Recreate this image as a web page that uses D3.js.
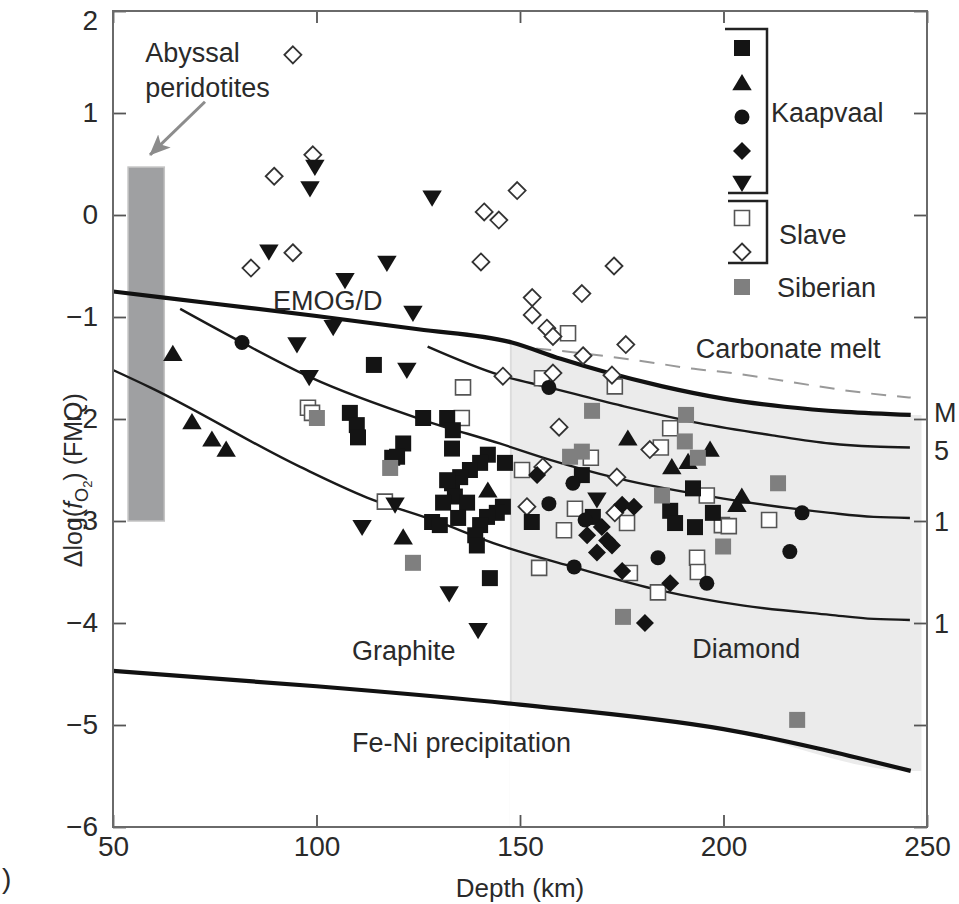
<!DOCTYPE html>
<html>
<head>
<meta charset="utf-8">
<script src="https://cdn.jsdelivr.net/npm/d3@7"></script>
<style>
  body { margin: 0; background: #fff; }
  text { font-family: "Liberation Sans", Arial, sans-serif; fill: #2a2a2a; }
</style>
</head>
<body>
<div id="chart"></div>
<script>
// axis ticks
var xTicks = [50, 100, 150, 200, 250];
var yTicks = [-6, -5, -4, -3, -2, -1, 0, 1, 2];

// reference curves [depth km, dlog fO2]
var emogLine = [[50,-0.75],[75,-0.87],[100,-0.99],[125,-1.12],[148,-1.25],[160,-1.41],[171,-1.54],[185,-1.68],[200,-1.80],[215,-1.88],[230,-1.93],[246,-1.96]];
var carbonateMelt = [[154,-1.31],[164,-1.35],[174,-1.40],[183,-1.45],[191,-1.50],[200,-1.54],[236,-1.75],[246,-1.79]];
var contourA = [[66.5,-0.92],[81.7,-1.25],[98.4,-1.59],[126.2,-2.01],[145,-2.24],[157.4,-2.40],[173.8,-2.58],[200,-2.78],[226.2,-2.92],[236.9,-2.96],[245.8,-2.97]];
var contourB = [[127.3,-1.29],[145.1,-1.57],[157.1,-1.69],[175,-1.87],[194,-2.04],[212,-2.16],[226.2,-2.24],[236.9,-2.27],[245.8,-2.28]];
var contourC = [[50,-1.52],[59.1,-1.69],[96,-2.47],[112.4,-2.77],[128.6,-2.99],[145.1,-3.24],[163,-3.45],[184.4,-3.68],[205,-3.83],[226.2,-3.92],[236.9,-3.96],[245.8,-3.97]];
var feNiLine = [[50,-4.47],[100,-4.62],[150,-4.80],[200,-5.04],[246,-5.45]];

// shaded fields
var abyssal = {x0: 53.7, x1: 62.6, y0: -3.0, y1: 0.47};
var diamondX = [147.5, 248.7];

// Kaapvaal
var kaapSquares = [[114.1,-1.47],[108.2,-1.94],[109.9,-2.06],[110.2,-2.18],[121.3,-2.24],[119.8,-2.37],[118.6,-2.38],[126.2,-1.99],[132.1,-1.99],[133.5,-2.11],[133.3,-2.29],[142.1,-2.35],[140.2,-2.43],[137.7,-2.50],[135.3,-2.57],[133.3,-2.63],[132.1,-2.60],[146.3,-2.43],[134.0,-2.76],[131.1,-2.82],[137.0,-2.82],[134.8,-2.97],[128.4,-3.01],[130.3,-3.04],[145.8,-2.86],[144.3,-2.92],[141.9,-2.96],[140.2,-3.04],[139.0,-3.14],[139.4,-3.24],[142.6,-3.56],[152.9,-3.01],[165.2,-2.55],[192.5,-2.68],[186.9,-2.90],[188.1,-3.02],[193.0,-3.06],[197.4,-2.92],[167.9,-2.96]];
var kaapTriangles = [[64.7,-1.36],[69.4,-2.03],[74.3,-2.20],[77.8,-2.30],[142.1,-2.70],[121.3,-3.16],[176.5,-2.19],[187.3,-2.47],[191.3,-2.42],[196.7,-2.30],[204.5,-2.76],[203.3,-2.84]];
var kaapCircles = [[81.7,-1.25],[157.1,-1.69],[163.0,-2.63],[157.1,-2.83],[166.0,-2.99],[183.9,-3.36],[163.3,-3.45],[195.9,-3.61],[219.3,-2.92],[216.3,-3.30]];
var kaapDiamonds = [[154.2,-2.55],[175.1,-2.84],[178.0,-2.86],[166.5,-3.14],[168.9,-3.31],[171.4,-3.19],[175.1,-3.49],[186.9,-3.61],[180.7,-4.00],[170.1,-3.06],[172.6,-3.24]];
var kaapDown = [[99.6,0.47],[98.4,0.26],[88.3,-0.36],[128.4,0.17],[117.3,-0.47],[107.0,-0.64],[123.7,-0.96],[104.1,-1.10],[95.2,-1.27],[122.2,-1.52],[98.2,-1.59],[111.2,-3.06],[119.3,-2.84],[132.6,-3.71],[139.7,-4.07],[168.9,-2.79]];

// Slave
var slaveSquares = [[97.9,-1.89],[98.9,-1.94],[136.0,-1.69],[135.7,-1.99],[150.5,-2.50],[116.8,-2.81],[154.7,-3.46],[173.3,-1.68],[186.9,-2.09],[184.6,-2.28],[167.4,-2.38],[163.5,-2.88],[160.8,-3.09],[176.3,-3.02],[195.9,-2.75],[199.6,-3.04],[201.3,-3.05],[211.2,-2.99],[193.5,-3.36],[193.7,-3.50],[177.0,-3.51],[183.9,-3.70],[161.8,-1.16],[155.4,-1.60]];
var slaveDiamonds = [[94.2,1.57],[99.1,0.59],[89.6,0.38],[94.2,-0.37],[83.9,-0.52],[149.3,0.24],[141.2,0.03],[144.8,-0.05],[140.4,-0.46],[173.1,-0.50],[153.0,-0.81],[165.2,-0.77],[153.0,-0.98],[156.6,-1.11],[158.1,-1.19],[176.0,-1.27],[165.5,-1.38],[145.8,-1.58],[158.1,-1.55],[172.6,-1.57],[159.6,-2.08],[181.9,-2.30],[155.6,-2.47],[151.7,-2.86],[173.8,-2.57],[173.3,-2.92]];

// Siberian
var siberian = [[100.1,-1.99],[118.1,-2.48],[123.7,-3.41],[167.7,-1.92],[190.8,-1.96],[190.5,-2.22],[162.3,-2.37],[165.2,-2.32],[193.7,-2.38],[184.9,-2.75],[213.4,-2.63],[199.9,-3.25],[175.3,-3.94],[218.1,-4.95]];

var width = 959, height = 904;
var x = d3.scaleLinear().domain([50, 250]).range([113, 927]);
var y = d3.scaleLinear().domain([-6, 2]).range([827, 11]);

var svg = d3.select("#chart").append("svg")
    .attr("width", width)
    .attr("height", height);

var defs = svg.append("defs");
defs.append("clipPath").attr("id", "plot")
  .append("rect")
    .attr("x", x(50)).attr("y", y(2))
    .attr("width", x(250) - x(50)).attr("height", y(-6) - y(2));
defs.append("clipPath").attr("id", "diamondZone")
  .append("rect")
    .attr("x", x(diamondX[0])).attr("y", y(2))
    .attr("width", x(diamondX[1]) - x(diamondX[0])).attr("height", y(-6) - y(2));
defs.append("marker")
    .attr("id", "arrow")
    .attr("markerUnits", "userSpaceOnUse")
    .attr("markerWidth", 26).attr("markerHeight", 20)
    .attr("refX", 20).attr("refY", 9)
    .attr("orient", "auto")
  .append("path")
    .attr("d", "M0,0L21,9L0,18L5,9Z")
    .attr("fill", "#8c8c8c");

var plot = svg.append("g").attr("clip-path", "url(#plot)");

// Diamond field shading: below EMOG/D, above Fe-Ni
var shade = plot.append("g").attr("clip-path", "url(#diamondZone)");
var emogExt = emogLine.concat([[diamondX[1], emogLine[emogLine.length - 1][1]]]);
var feNiExt = feNiLine.concat([[diamondX[1], feNiLine[feNiLine.length - 1][1]]]);
shade.append("path")
    .datum(emogExt)
    .attr("fill", "#ebebeb")
    .attr("d", d3.area()
      .x(function(d) { return x(d[0]); })
      .y0(y(-6))
      .y1(function(d) { return y(d[1]); })
      .curve(d3.curveMonotoneX));
shade.append("path")
    .datum(feNiExt)
    .attr("fill", "#fff")
    .attr("d", d3.area()
      .x(function(d) { return x(d[0]); })
      .y0(y(-6))
      .y1(function(d) { return y(d[1]); })
      .curve(d3.curveMonotoneX));
// faint left edge of the diamond field
shade.append("line")
    .attr("x1", x(diamondX[0]) + 1).attr("x2", x(diamondX[0]) + 1)
    .attr("y1", y(-1.25)).attr("y2", y(-4.78))
    .attr("stroke", "#dcdcdc").attr("stroke-width", 2);

// Abyssal peridotites bar
plot.append("rect")
    .attr("x", x(abyssal.x0))
    .attr("y", y(abyssal.y1))
    .attr("width", x(abyssal.x1) - x(abyssal.x0))
    .attr("height", y(abyssal.y0) - y(abyssal.y1))
    .attr("fill", "#9fa0a2")
    .attr("stroke", "#c4c4c4")
    .attr("stroke-width", 1.5);

var line = d3.line()
    .x(function(d) { return x(d[0]); })
    .y(function(d) { return y(d[1]); })
    .curve(d3.curveMonotoneX);

plot.append("path").datum(carbonateMelt)
    .attr("fill", "none").attr("stroke", "#999").attr("stroke-width", 2)
    .attr("stroke-dasharray", "15,11").attr("d", line);
[contourA, contourB, contourC].forEach(function(c) {
  plot.append("path").datum(c)
      .attr("fill", "none").attr("stroke", "#1a1a1a").attr("stroke-width", 2.4)
      .attr("d", line);
});
[emogLine, feNiLine].forEach(function(c) {
  plot.append("path").datum(c)
      .attr("fill", "none").attr("stroke", "#111").attr("stroke-width", 4.2)
      .attr("d", line);
});

// marker shapes
function squarePath(s) { var h = s / 2; return "M" + (-h) + "," + (-h) + "h" + s + "v" + s + "h" + (-s) + "Z"; }
function triUpPath(h) { return "M0," + (-h) + "L" + (h * 1.08) + "," + (h * 0.8) + "L" + (-h * 1.08) + "," + (h * 0.8) + "Z"; }
function triDownPath(h) { return "M0," + h + "L" + (h * 1.08) + "," + (-h * 0.8) + "L" + (-h * 1.08) + "," + (-h * 0.8) + "Z"; }
function diamondPath(d) { return "M0," + (-d) + "L" + d + ",0L0," + d + "L" + (-d) + ",0Z"; }
function circlePath(r) { return "M" + r + ",0A" + r + "," + r + " 0 1,1 " + (-r) + ",0A" + r + "," + r + " 0 1,1 " + r + ",0Z"; }

var styles = {
  slaveSq:  {d: squarePath(15), fill: "#fff", stroke: "#555", sw: 1.6},
  slaveDi:  {d: diamondPath(8.5), fill: "#fff", stroke: "#333", sw: 1.8},
  square:   {d: squarePath(16), fill: "#141414", stroke: "none", sw: 0},
  tri:      {d: triUpPath(9), fill: "#141414", stroke: "none", sw: 0},
  circle:   {d: circlePath(7.5), fill: "#141414", stroke: "none", sw: 0},
  diamond:  {d: diamondPath(9), fill: "#141414", stroke: "none", sw: 0},
  down:     {d: triDownPath(9), fill: "#141414", stroke: "none", sw: 0},
  siberian: {d: squarePath(16), fill: "#7f7f7f", stroke: "none", sw: 0}
};

function drawSeries(data, st) {
  plot.append("g").selectAll("path")
    .data(data)
    .enter().append("path")
      .attr("transform", function(d) { return "translate(" + x(d[0]) + "," + y(d[1]) + ")"; })
      .attr("d", st.d)
      .attr("fill", st.fill)
      .attr("stroke", st.stroke)
      .attr("stroke-width", st.sw);
}
drawSeries(slaveSquares, styles.slaveSq);
drawSeries(slaveDiamonds, styles.slaveDi);
drawSeries(kaapSquares, styles.square);
drawSeries(kaapTriangles, styles.tri);
drawSeries(kaapCircles, styles.circle);
drawSeries(kaapDiamonds, styles.diamond);
drawSeries(kaapDown, styles.down);
drawSeries(siberian, styles.siberian);

// arrow to abyssal bar
svg.append("line")
    .attr("x1", x(72.6)).attr("y1", y(1.11))
    .attr("x2", x(59.1)).attr("y2", y(0.59))
    .attr("stroke", "#8c8c8c").attr("stroke-width", 3)
    .attr("marker-end", "url(#arrow)");

// axes with inward ticks on all sides
function styleAxis(g) {
  g.select(".domain").remove();
  g.selectAll(".tick line").attr("stroke", "#555").attr("stroke-width", 1.8);
  g.selectAll(".tick text").attr("font-size", 28).attr("fill", "#2a2a2a")
    .attr("font-family", "Liberation Sans, Arial, sans-serif");
}
svg.append("g").attr("transform", "translate(0," + y(-6) + ")")
    .call(d3.axisBottom(x).tickValues(xTicks).tickSize(-12).tickPadding(9))
    .call(styleAxis);
svg.append("g").attr("transform", "translate(0," + y(2) + ")")
    .call(d3.axisTop(x).tickValues(xTicks).tickSize(-12).tickFormat(""))
    .call(styleAxis);
svg.append("g").attr("transform", "translate(" + x(50) + ",0)")
    .call(d3.axisLeft(y).tickValues(yTicks).tickSize(-13).tickPadding(15))
    .call(styleAxis)
    .selectAll(".tick text")
      .filter(function(d) { return d === 2; })
      .attr("dy", "0.65em");
svg.append("g").attr("transform", "translate(" + x(250) + ",0)")
    .call(d3.axisRight(y).tickValues(yTicks).tickSize(-13).tickFormat(""))
    .call(styleAxis);

svg.append("rect")
    .attr("x", x(50)).attr("y", y(2))
    .attr("width", x(250) - x(50)).attr("height", y(-6) - y(2))
    .attr("fill", "none").attr("stroke", "#6a6a6a").attr("stroke-width", 2);

// axis titles
svg.append("text")
    .attr("x", x(150)).attr("y", 897)
    .attr("text-anchor", "middle").attr("font-size", 26)
    .text("Depth (km)");

var yl = svg.append("text")
    .attr("transform", "translate(82," + y(-2.6) + ") rotate(-90)")
    .attr("text-anchor", "middle").attr("font-size", 25);
yl.append("tspan").text("\u0394log(");
yl.append("tspan").attr("font-style", "italic").text("f");
yl.append("tspan").attr("font-size", 18).attr("dy", 6).text("O");
yl.append("tspan").attr("font-size", 13).attr("dy", 4).text("2");
yl.append("tspan").attr("dy", -10).text(") (FMQ)");

svg.append("text").attr("x", 2).attr("y", 888).attr("font-size", 28).text(")");

// in-plot labels
function label(t, xv, yv, size) {
  svg.append("text").attr("x", x(xv)).attr("y", y(yv))
    .attr("font-size", size || 27).text(t);
}
label("Abyssal", 57.9, 1.50);
label("peridotites", 57.9, 1.16);
label("EMOG/D", 89.3, -0.93);
label("Carbonate melt", 193.2, -1.40);
label("Graphite", 108.7, -4.36);
label("Diamond", 192.3, -4.34);
label("Fe-Ni precipitation", 108.7, -5.26);

// right edge labels (cut off by the frame of the figure)
[["M", -2.03], ["5", -2.40], ["1", -3.10], ["1", -4.10]].forEach(function(r) {
  svg.append("text").attr("x", x(250) + 7).attr("y", y(r[1]))
    .attr("font-size", 27).text(r[0]);
});

// legend
var lg = svg.append("g");
var lx = 742;
var legendRows = [
  [styles.square, 48], [styles.tri, 83], [styles.circle, 117], [styles.diamond, 151], [styles.down, 183],
  [styles.slaveSq, 218], [styles.slaveDi, 252], [styles.siberian, 287]
];
legendRows.forEach(function(r) {
  lg.append("path").attr("transform", "translate(" + lx + "," + r[1] + ")")
    .attr("d", r[0].d).attr("fill", r[0].fill).attr("stroke", r[0].stroke).attr("stroke-width", r[0].sw);
});
lg.append("path").attr("d", "M725,29H767V193H728").attr("fill", "none").attr("stroke", "#222").attr("stroke-width", 2.5);
lg.append("path").attr("d", "M728,201H767V263H728").attr("fill", "none").attr("stroke", "#222").attr("stroke-width", 2.5);
lg.append("text").attr("x", 771).attr("y", 122).attr("font-size", 27).text("Kaapvaal");
lg.append("text").attr("x", 779).attr("y", 244).attr("font-size", 27).text("Slave");
lg.append("text").attr("x", 777).attr("y", 297).attr("font-size", 27).text("Siberian");
</script>
</body>
</html>
